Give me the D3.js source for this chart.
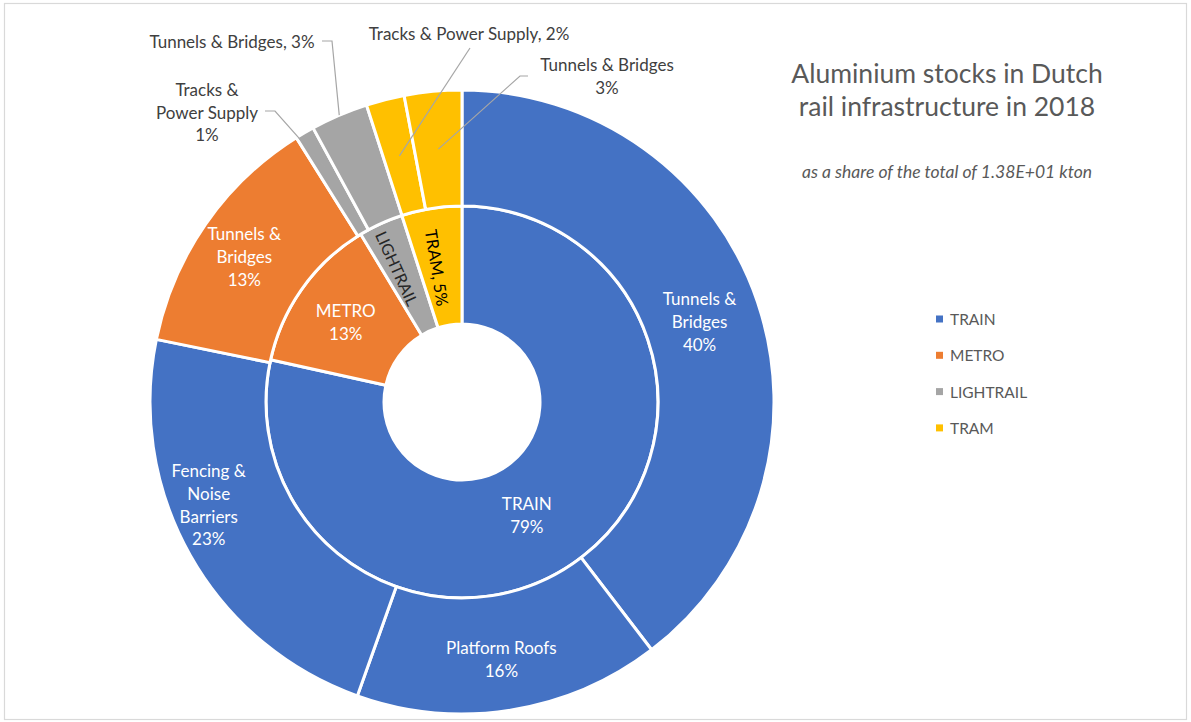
<!DOCTYPE html>
<html>
<head>
<meta charset="utf-8">
<script src="https://cdn.jsdelivr.net/npm/d3@7/dist/d3.min.js"></script>
<style>
  html, body { margin: 0; padding: 0; background: #ffffff; }
  svg { display: block; font-family: Lato, "Noto Sans", sans-serif; }
</style>
</head>
<body>
<svg id="chart" width="1191" height="722"></svg>
<script>
// Inner ring: share of each rail mode (percent of total stock)
const categories = ["TRAIN", "METRO", "LIGHTRAIL", "TRAM"];
const categoryShares = [79, 13, 3.7, 5];

// Outer ring: share of each infrastructure component within the modes
const componentGroups = ["TRAIN", "TRAIN", "TRAIN", "METRO", "LIGHTRAIL", "LIGHTRAIL", "TRAM", "TRAM"];
const componentNames = [
  "Tunnels & Bridges", "Platform Roofs", "Fencing & Noise Barriers",
  "Tunnels & Bridges", "Tracks & Power Supply", "Tunnels & Bridges",
  "Tracks & Power Supply", "Tunnels & Bridges"
];
const componentShares = [40, 16, 23, 13, 1, 3, 2, 3];

const titleLines = ["Aluminium stocks in Dutch", "rail infrastructure in 2018"];
const subtitle = "as a share of the total of 1.38E+01 kton";

// ---- layout -------------------------------------------------------------
const W = 1191, H = 722;
const cx = 462, cy = 402;
const rHole = 78, rMid = 196, rOuter = 312;
const lineH = 22.8;
const labelSize = "17px";

const color = d3.scaleOrdinal()
  .domain(categories)
  .range(["#4472C4", "#ED7D31", "#A5A5A5", "#FFC000"]);

// label placement per ring slice (wrap width in characters, nudges in px)
const innerLabelLayout = [
  { dx: -21, dy: 6 },
  { dx: -5, dy: 0 },
  { dx: -8, dy: -9, radial: true, nameOnly: true, fill: "#262626", size: "16px" },
  { dx: -4, dy: 1, radial: true, inline: true, fill: "#000000", size: "16.5px" }
];
const outerLabelLayout = [
  { wrap: 10, dx: -3, dy: 1 },
  { wrap: 14, dx: 0, dy: 6 },
  { wrap: 9, dx: -32, dy: -22 },
  { wrap: 10, dx: -9, dy: -1 },
  { wrap: 12, outside: true, x: 207, y: 112, leader: [[265, 111], [275, 111]], endR: 272 },
  { inline: true, outside: true, x: 232, y: 41, leader: [[322, 41], [332, 41]], endR: 312 },
  { inline: true, outside: true, x: 469, y: 33, leader: [[470, 48]], endR: 254 },
  { wrap: 20, outside: true, x: 607, y: 76, leader: [[528, 76], [520, 76]], endR: 254 }
];

function wrapWords(text, maxChars) {
  const words = text.split(" ");
  const lines = [];
  let cur = "";
  words.forEach(w => {
    const test = cur ? cur + " " + w : w;
    if (cur && test.length > maxChars) { lines.push(cur); cur = w; }
    else cur = test;
  });
  if (cur) lines.push(cur);
  return lines;
}

const svg = d3.select("#chart");

// frame
svg.append("rect")
  .attr("x", 4.5).attr("y", 3.5)
  .attr("width", W - 9).attr("height", H - 6)
  .attr("fill", "#ffffff")
  .attr("stroke", "#d9d9d9")
  .attr("stroke-width", 1.2);

const g = svg.append("g").attr("transform", `translate(${cx},${cy})`);

const pie = d3.pie().sort(null).value(d => d.value);

const innerData = pie(categories.map((c, i) => ({ name: c, group: c, value: categoryShares[i], idx: i })));
const outerData = pie(componentNames.map((n, i) => ({ name: n, group: componentGroups[i], value: componentShares[i], idx: i })));

const innerArc = d3.arc().innerRadius(rHole).outerRadius(rMid);
const outerArc = d3.arc().innerRadius(rMid).outerRadius(rOuter);

g.append("g").selectAll("path")
  .data(innerData)
  .join("path")
  .attr("d", innerArc)
  .attr("fill", d => color(d.data.group))
  .attr("stroke", "#ffffff")
  .attr("stroke-width", 3)
  .attr("stroke-linejoin", "round");

g.append("g").selectAll("path")
  .data(outerData)
  .join("path")
  .attr("d", outerArc)
  .attr("fill", d => color(d.data.group))
  .attr("stroke", "#ffffff")
  .attr("stroke-width", 3)
  .attr("stroke-linejoin", "round");

const pct = v => `${d3.format(".0f")(v)}%`;

function drawLines(sel, lines, fill, size) {
  const n = lines.length;
  sel.selectAll("text")
    .data(lines)
    .join("text")
    .attr("text-anchor", "middle")
    .attr("dominant-baseline", "central")
    .attr("y", (d, i) => (i - (n - 1) / 2) * lineH)
    .attr("fill", fill)
    .attr("font-size", size)
    .text(d => d);
}

// inner ring labels
innerData.forEach((d, i) => {
  const L = innerLabelLayout[i];
  const c = innerArc.centroid(d);
  let lines;
  if (L.nameOnly) lines = [d.data.name];
  else if (L.inline) lines = [`${d.data.name}, ${pct(d.data.value)}`];
  else lines = [d.data.name, pct(d.data.value)];
  const mid = (d.startAngle + d.endAngle) / 2;
  let rot = 0;
  if (L.radial) rot = Math.atan2(Math.cos(mid), -Math.sin(mid)) * 180 / Math.PI;
  const lg = g.append("g")
    .attr("transform", `translate(${c[0] + L.dx},${c[1] + L.dy}) rotate(${rot})`);
  drawLines(lg, lines, L.fill || "#ffffff", L.size || labelSize);
});

// outer ring labels and leader lines
const labelLayer = svg.append("g");
outerData.forEach((d, i) => {
  const L = outerLabelLayout[i];
  const value = pct(d.data.value);
  let lines;
  if (L.inline) lines = [`${d.data.name}, ${value}`];
  else lines = wrapWords(d.data.name, L.wrap).concat([value]);

  if (L.outside) {
    const mid = (d.startAngle + d.endAngle) / 2;
    const end = [cx + L.endR * Math.sin(mid), cy - L.endR * Math.cos(mid)];
    const pts = L.leader.concat([end]);
    labelLayer.append("path")
      .attr("d", d3.line()(pts))
      .attr("fill", "none")
      .attr("stroke", "#a6a6a6")
      .attr("stroke-width", 1.2);
    const lg = labelLayer.append("g").attr("transform", `translate(${L.x},${L.y})`);
    drawLines(lg, lines, "#404040", labelSize);
  } else {
    const c = outerArc.centroid(d);
    const lg = g.append("g").attr("transform", `translate(${c[0] + L.dx},${c[1] + L.dy})`);
    drawLines(lg, lines, "#ffffff", labelSize);
  }
});

// title and subtitle
const tg = svg.append("g").attr("transform", "translate(947,0)");
tg.selectAll("text.title")
  .data(titleLines)
  .join("text")
  .attr("class", "title")
  .attr("text-anchor", "middle")
  .attr("dominant-baseline", "central")
  .attr("y", (d, i) => 73 + i * 33)
  .attr("font-size", "26.5px")
  .attr("fill", "#595959")
  .text(d => d);
tg.append("text")
  .attr("text-anchor", "middle")
  .attr("dominant-baseline", "central")
  .attr("y", 171)
  .attr("font-size", "17.5px")
  .attr("font-style", "italic")
  .attr("fill", "#595959")
  .text(subtitle);

// legend
const legend = svg.append("g").attr("transform", "translate(936,319)");
const items = legend.selectAll("g")
  .data(categories)
  .join("g")
  .attr("transform", (d, i) => `translate(0,${i * 36.3})`);
items.append("rect")
  .attr("x", 0).attr("y", -3.5)
  .attr("width", 7).attr("height", 7)
  .attr("fill", d => color(d));
items.append("text")
  .attr("x", 14)
  .attr("dominant-baseline", "central")
  .attr("font-size", "15.5px")
  .attr("fill", "#595959")
  .text(d => d);
</script>
</body>
</html>
